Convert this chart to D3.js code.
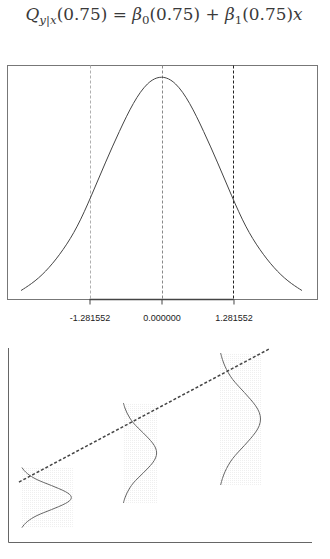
<!DOCTYPE html>
<html>
<head>
<meta charset="utf-8">
<script src="https://cdn.jsdelivr.net/npm/d3@7"></script>
<style>
  body { margin: 0; background: #fff; }
  svg { display: block; }
</style>
</head>
<body>
<div id="chart"></div>
<script>
// DATA
// standard normal shape (z, relative height)
var profileZ = [-2.5, -2.25, -2, -1.75, -1.5, -1.25, -1, -0.75, -0.5, -0.25, 0,
                0.25, 0.5, 0.75, 1, 1.25, 1.5, 1.75, 2, 2.25, 2.5]
, profileH = [0.04, 0.08, 0.14, 0.22, 0.32, 0.46, 0.61, 0.75, 0.88, 0.97, 1,
              0.97, 0.88, 0.75, 0.61, 0.46, 0.32, 0.22, 0.14, 0.08, 0.04]
, quantiles = [-1.281552, 0, 1.281552]
, tickLabels = ["-1.281552", "0.000000", "1.281552"]

// lower panel: three conditional densities along the quantile line
, groupX = [3.9, 37.5, 69.4]        // baseline x of each density
, groupMean = [22.9, 45.9, 63.4]    // centre y
, groupSd = [6.2, 10.3, 13.6]       // spread
, groupPeak = [17.1, 11.5, 13.8]    // peak width
, lineX = [3.6, 85.9]
, lineY = [30.9, 99.5];

var W = 330, H = 559;

var svg = d3.select("#chart").append("svg")
  .attr("width", W)
  .attr("height", H);

// dotted fill used behind the lower densities
var defs = svg.append("defs");
var pat = defs.append("pattern")
  .attr("id", "dots")
  .attr("patternUnits", "userSpaceOnUse")
  .attr("width", 2)
  .attr("height", 2);
pat.append("rect").attr("width", 1).attr("height", 1).attr("fill", "#efefef");

// ---------- title ----------
var title = svg.append("text")
  .attr("x", 164)
  .attr("y", 20)
  .attr("text-anchor", "middle")
  .attr("fill", "#3a3a3a")
  .style("font-family", "'DejaVu Serif', 'Liberation Serif', serif")
  .style("font-size", "16px");

function part(txt, italic, sub) {
  var t = title.append("tspan").text(txt);
  if (italic) t.style("font-style", "italic");
  if (sub) t.style("font-size", "0.7em").attr("dy", 4);
  return t;
}
part("Q", true);
part("y|x", true, true);
part("(0.75) =  ", false).attr("dy", -4);
part("\u03B2", true);
part("0", false, true);
part("(0.75) + ", false).attr("dy", -4);
part("\u03B2", true);
part("1", false, true);
part("(0.75)", false).attr("dy", -4);
part("x", true);

var tw = title.node().getComputedTextLength();
title.style("font-size", (16 * 277 / tw) + "px");

// ---------- top panel ----------
var box = { l: 7, r: 317, t: 65.5, b: 299.5 };

var x1 = d3.scaleLinear().domain([-2.75, 2.75]).range([box.l, box.r - 1]);
var y1 = d3.scaleLinear().domain([0, 1]).range([box.b, 75]);

svg.append("rect")
  .attr("x", box.l + 0.5)
  .attr("y", box.t)
  .attr("width", box.r - box.l)
  .attr("height", box.b - box.t)
  .attr("fill", "none")
  .attr("stroke", "#777")
  .attr("stroke-width", 1);

var qColors = ["#b0b0b0", "#888", "#222"];
svg.selectAll("line.q")
  .data(quantiles)
  .enter()
  .append("line")
  .attr("class", "q")
  .attr("x1", function(d) { return Math.round(x1(d)) + 0.5; })
  .attr("x2", function(d) { return Math.round(x1(d)) + 0.5; })
  .attr("y1", box.t)
  .attr("y2", box.b)
  .attr("stroke", function(d, i) { return qColors[i]; })
  .attr("stroke-dasharray", "3,2");

svg.append("path")
  .datum(d3.range(profileZ.length))
  .attr("fill", "none")
  .attr("stroke", "#444")
  .attr("stroke-width", 1)
  .attr("d", d3.line()
    .x(function(i) { return x1(profileZ[i]); })
    .y(function(i) { return y1(profileH[i]); })
    .curve(d3.curveBasis));

// axis: dark segment between the outer quantiles
var ax = svg.append("g")
  .attr("transform", "translate(0," + box.b + ")")
  .call(d3.axisBottom(x1)
    .tickValues(quantiles)
    .tickFormat(function(d, i) { return tickLabels[i]; })
    .tickSize(5)
    .tickPadding(10)
    .tickSizeOuter(0));
ax.select(".domain")
  .attr("d", "M" + x1(quantiles[0]) + ",0H" + x1(quantiles[2]))
  .attr("stroke", "#444")
  .attr("stroke-width", 1.5);
ax.selectAll(".tick line").attr("stroke", "#444");
ax.selectAll(".tick text")
  .attr("fill", "#222")
  .style("font-family", "'Liberation Sans', Arial, sans-serif")
  .style("font-size", "9px");

// ---------- bottom panel ----------
var x2 = d3.scaleLinear().domain([0, 100]).range([8, 312]);
var y2 = d3.scaleLinear().domain([0, 100]).range([542, 348]);

svg.append("path")
  .attr("d", "M" + (x2(0) + 0.5) + "," + y2(100) + "V" + (y2(0) + 0.5) + "H" + x2(100))
  .attr("fill", "none")
  .attr("stroke", "#666")
  .attr("stroke-width", 1);

var groups = svg.selectAll("g.dens")
  .data(d3.range(groupX.length))
  .enter()
  .append("g")
  .attr("class", "dens");

groups.append("rect")
  .attr("x", function(g) { return x2(groupX[g]) + 1; })
  .attr("y", function(g) { return y2(groupMean[g] + 2.5 * groupSd[g]); })
  .attr("width", function(g) { return x2(groupPeak[g]) - x2(0); })
  .attr("height", function(g) { return y2(0) - y2(5 * groupSd[g]); })
  .attr("fill", "url(#dots)");

groups.append("path")
  .attr("fill", "none")
  .attr("stroke", "#666")
  .attr("stroke-width", 1)
  .attr("d", function(g) {
    return d3.line()
      .x(function(i) { return x2(groupX[g] + profileH[i] * groupPeak[g]); })
      .y(function(i) { return y2(groupMean[g] - profileZ[i] * groupSd[g]); })
      .curve(d3.curveBasis)(d3.range(profileZ.length));
  });

svg.append("line")
  .attr("x1", x2(lineX[0]))
  .attr("y1", y2(lineY[0]))
  .attr("x2", x2(lineX[1]))
  .attr("y2", y2(lineY[1]))
  .attr("stroke", "#444")
  .attr("stroke-width", 1.5)
  .attr("stroke-dasharray", "3,2");
</script>
</body>
</html>
